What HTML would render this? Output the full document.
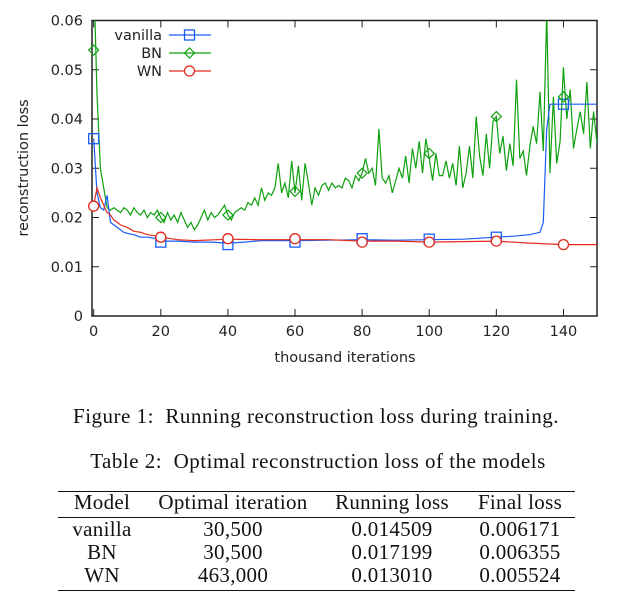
<!DOCTYPE html>
<html><head><meta charset="utf-8"><style>
body{margin:0;background:#fff;width:621px;height:609px;overflow:hidden;position:relative}
svg{position:absolute;left:0;top:0}
.t{font-family:"DejaVu Sans","Liberation Sans",sans-serif;font-size:14.5px;fill:#222}
.s{position:absolute;font-family:"Liberation Serif",serif;font-size:21px;color:#111;white-space:nowrap;letter-spacing:0.3px}
.cap{letter-spacing:0.5px}
</style></head><body>
<svg id="chart" width="621" height="380" xmlns="http://www.w3.org/2000/svg"></svg>
<div class="s cap" style="left:0;width:632px;text-align:center;top:404px">Figure 1:&nbsp;&nbsp;Running reconstruction loss during training.</div>
<div class="s cap" style="left:0;width:636px;text-align:center;top:449px">Table 2:&nbsp;&nbsp;Optimal reconstruction loss of the models</div>
<div style="position:absolute;left:58px;width:517px;top:491px;border-top:1.3px solid #111"></div>
<div style="position:absolute;left:58px;width:517px;top:517px;border-top:1.3px solid #111"></div>
<div style="position:absolute;left:58px;width:517px;top:590px;border-top:1.3px solid #111"></div>
<div id="tbl"></div>
<script>
const xTicks=[0,20,40,60,80,100,120,140];
const yTicks=[0,0.01,0.02,0.03,0.04,0.05,0.06];
const yTickLabels=["0","0.01","0.02","0.03","0.04","0.05","0.06"];
const bnValues=[0.07,0.045,0.03,0.026,0.022,0.0215,0.022,0.0215,0.021,0.022,0.0215,0.0205,0.022,0.021,0.0205,0.0215,0.02,0.021,0.0205,0.0215,0.02,0.019,0.021,0.0195,0.0205,0.019,0.021,0.0195,0.018,0.019,0.0175,0.0185,0.02,0.0215,0.0195,0.021,0.02,0.0205,0.0215,0.0225,0.0205,0.0195,0.021,0.0215,0.022,0.0215,0.023,0.0225,0.024,0.0225,0.026,0.0235,0.025,0.0245,0.026,0.031,0.025,0.027,0.024,0.0315,0.025,0.0305,0.0235,0.031,0.027,0.0225,0.026,0.0245,0.0265,0.027,0.0255,0.027,0.026,0.0265,0.026,0.028,0.0275,0.026,0.0285,0.0275,0.029,0.032,0.029,0.03,0.0265,0.038,0.028,0.027,0.0285,0.025,0.0275,0.03,0.028,0.0325,0.027,0.034,0.03,0.0355,0.029,0.036,0.032,0.0275,0.033,0.0285,0.0285,0.0315,0.028,0.031,0.0265,0.0345,0.026,0.029,0.0345,0.028,0.0405,0.0325,0.0285,0.037,0.03,0.0395,0.0405,0.033,0.0365,0.0295,0.035,0.0305,0.048,0.032,0.0335,0.0285,0.0345,0.0385,0.035,0.0455,0.0335,0.0615,0.029,0.0445,0.031,0.0355,0.0505,0.04,0.046,0.034,0.038,0.0415,0.037,0.0475,0.034,0.0415,0.035];
const vanillaX=[0,1,2,3,4,5,6,7,8,9,10,12,14,16,18,20,25,30,35,40,45,50,55,60,70,80,90,100,110,115,120,125,130,133,134,135,136,140,150];
const vanillaValues=[0.036,0.025,0.022,0.0215,0.0245,0.019,0.0185,0.018,0.0175,0.017,0.0168,0.0165,0.016,0.016,0.0158,0.0152,0.0152,0.015,0.015,0.0148,0.015,0.0153,0.0153,0.0153,0.0154,0.0155,0.0154,0.0155,0.0156,0.0158,0.016,0.0162,0.0165,0.017,0.019,0.038,0.043,0.043,0.043];
const wnX=[0,1,2,3,4,5,6,7,8,10,12,14,16,18,20,25,30,40,50,60,70,80,90,100,110,120,130,140,150];
const wnValues=[0.0225,0.026,0.024,0.0225,0.021,0.0205,0.0195,0.019,0.0185,0.018,0.0172,0.017,0.0165,0.0163,0.016,0.0155,0.0153,0.0156,0.0155,0.0155,0.0155,0.0152,0.0152,0.015,0.0151,0.0152,0.0148,0.0145,0.0145];
const markerX=[0,20,40,60,80,100,120,140];
const vanillaMarks=[0.036,0.015,0.0145,0.015,0.0157,0.0156,0.016,0.043];
const bnMarks=[0.054,0.02,0.0205,0.0253,0.029,0.033,0.0405,0.0445];
const wnMarks=[0.0223,0.016,0.0157,0.0157,0.015,0.015,0.0152,0.0145];

const L=92,R=597,T=20.5,B=316;
const X=v=>L+(v+0.5)/150.5*(R-L);
const Y=v=>B-v/0.06*(B-T);
const NS="http://www.w3.org/2000/svg";
const svg=document.getElementById('chart');
function mk(tag,at,parent){const e=document.createElementNS(NS,tag);for(const k in at)e.setAttribute(k,at[k]);(parent||svg).appendChild(e);return e;}
const defs=mk('defs',{});const cp=mk('clipPath',{id:'c'},defs);mk('rect',{x:L,y:T,width:R-L,height:B-T},cp);
const BLUE='#1a5cf5',GREEN='#0ea00e',RED='#e52a1c';
yTicks.forEach((v,i)=>{
 const t=mk('line',{x1:L,x2:L+7,y1:Y(v),y2:Y(v),stroke:'#222'});
 
 const t2=mk('line',{x1:R,x2:R-7,y1:Y(v),y2:Y(v),stroke:'#222'});
 
 const l=mk('text',{x:L-9,y:Y(v)+5,'text-anchor':'end',class:'t'});l.textContent=yTickLabels[i];
 
});
xTicks.forEach(v=>{
 const t=mk('line',{x1:X(v),x2:X(v),y1:B,y2:B-7,stroke:'#222'});
 
 const t2=mk('line',{x1:X(v),x2:X(v),y1:T,y2:T+7,stroke:'#222'});
 
 const l=mk('text',{x:X(v),y:B+20,'text-anchor':'middle',class:'t'});l.textContent=String(v);
 
});
const fr=mk('rect',{x:L,y:T,width:R-L,height:B-T,fill:'none',stroke:'#222','stroke-width':1.5});

const xt=mk('text',{x:345,y:362,'text-anchor':'middle',class:'t'});xt.textContent='thousand iterations';

const yt=mk('text',{x:0,y:0,'text-anchor':'middle',class:'t',transform:'translate(28,168) rotate(-90)'});yt.textContent='reconstruction loss';

function line(xs,ys,col,name){
 const d=xs.map((x,i)=>(i?'L':'M')+X(x).toFixed(1)+','+Y(ys[i]).toFixed(1)).join('');
 const p=mk('path',{d:d,fill:'none',stroke:col,'stroke-width':1.2,'clip-path':'url(#c)'});
 
}
function marker(type,cx,cy,col,name){
 let e;
 if(type==='sq')e=mk('rect',{x:cx-5,y:cy-5,width:10,height:10,fill:'none',stroke:col,'stroke-width':1.3});
 else if(type==='di')e=mk('path',{d:`M${cx},${cy-5}L${cx+5},${cy}L${cx},${cy+5}L${cx-5},${cy}Z`,fill:'none',stroke:col,'stroke-width':1.2});
 else e=mk('circle',{cx:cx,cy:cy,r:5,fill:'#fff',stroke:col,'stroke-width':1.3});
 
}
line(bnValues.map((v,i)=>i),bnValues,GREEN,'bn-line');
line(vanillaX,vanillaValues,BLUE,'vanilla-line');
line(wnX,wnValues,RED,'wn-line');
markerX.forEach((x,i)=>{
 marker('sq',X(x),Y(vanillaMarks[i]),BLUE,'vanilla-marker');
 marker('di',X(x),Y(bnMarks[i]),GREEN,'bn-marker');
 marker('ci',X(x),Y(wnMarks[i]),RED,'wn-marker');
});
[['vanilla',BLUE,'sq',35],['BN',GREEN,'di',53],['WN',RED,'ci',71]].forEach(([n,c,m,y])=>{
 const tx=mk('text',{x:162,y:y+5,'text-anchor':'end',class:'t'});tx.textContent=n;
 
 const ln=mk('line',{x1:169,x2:211,y1:y,y2:y,stroke:c,'stroke-width':1.2});
 
 marker(m,189.5,y,c,'legend-marker');
});
const cols=[102,233,392,520];
const rowsY=[490,517,540,563];
const rows=[["Model","Optimal iteration","Running loss","Final loss"],["vanilla","30,500","0.014509","0.006171"],["BN","30,500","0.017199","0.006355"],["WN","463,000","0.013010","0.005524"]];
const tbl=document.getElementById('tbl');
rows.forEach((r,ri)=>r.forEach((c,ci)=>{
 const d=document.createElement('div');d.className='s';
 d.style.left=(cols[ci]-100)+'px';d.style.width='200px';d.style.textAlign='center';d.style.top=rowsY[ri]+'px';
 d.textContent=c;
 
 
 tbl.appendChild(d);
}));
</script>
</body></html>
